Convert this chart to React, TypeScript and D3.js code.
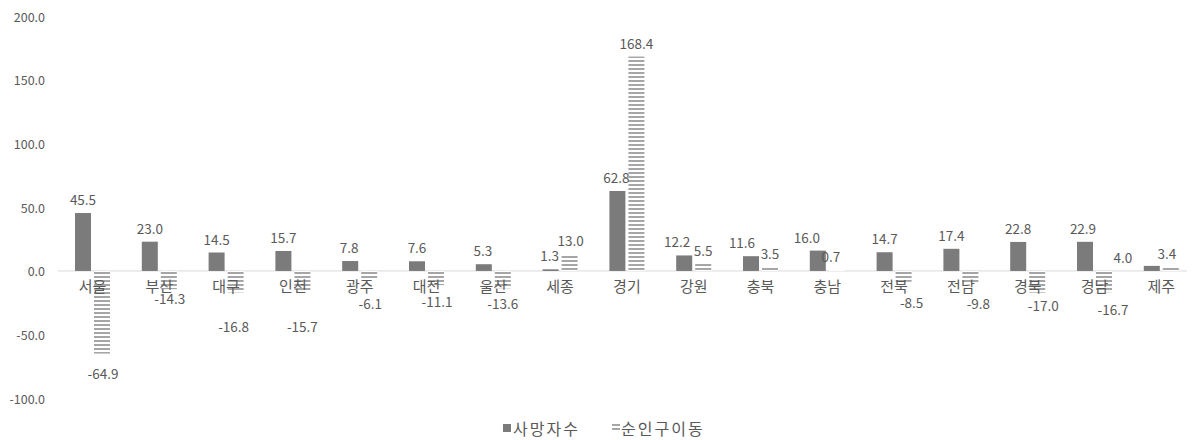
import React from "react";
import * as d3 from "d3";

const categories = ["서울", "부산", "대구", "인천", "광주", "대전", "울산", "세종", "경기", "강원", "충북", "충남", "전북", "전남", "경북", "경남", "제주"];
const deaths = [45.5, 23.0, 14.5, 15.7, 7.8, 7.6, 5.3, 1.3, 62.8, 12.2, 11.6, 16.0, 14.7, 17.4, 22.8, 22.9, 4.0];
const migration = [-64.9, -14.3, -16.8, -15.7, -6.1, -11.1, -13.6, 13.0, 168.4, 5.5, 3.5, 0.7, -8.5, -9.8, -17.0, -16.7, 3.4];
const yTicks = [-100, -50, 0, 50, 100, 150, 200];
const seriesNames = ["사망자수", "순인구이동"];

// manual label nudges (px), as the labels were placed in the original
const deathLabelDx = [0, 0, 0, 0, -1, 0, -1, -1, -1, -7, -9, -11, 0, 0, 0, -2, -29];
const deathLabelDy = [0, 0, 0, 0, 0, 0, 0, 0, 0, 0, 0, 0, 0, 0, 0, 0, 5];
const migLabelDx = [1, 1, -2, 0, 1, 1, 0, 1, 0, 0, 0, -6, 8, 8, 6, 9, -4];
const migLabelDy = [19, 9, 34, 35, 24, 16, 15, 0, 0, 0, 0, 0, 20, 20, 12, 17, 0];

const W = 1192;
const H = 440;
const FONT = "'Malgun Gothic','Noto Sans CJK KR','Noto Sans',sans-serif";
const TXT = "#595959";
const DARK = "#7b7b7b";
const HATCH = "#a6a6a6";

const fmt = (v: number) => d3.format(".1f")(v).replace("\u2212", "-");

export default function App() {
  const x = d3.scaleBand<string>().domain(categories).range([59.1, 59.1 + 17 * 66.8]).padding(0);
  const y = d3.scaleLinear().domain([-100, 200]).range([398.3, 16.3]);
  const bw = 16;
  const gap = 3;
  const y0 = y(0);

  return (
    <div style={{ position: "fixed", left: 0, top: 0 }}>
      <svg width={W} height={H} style={{ display: "block", background: "#fff" }} fontFamily={FONT}>
        <defs>
          <pattern id="hatch" width={4} height={4} patternUnits="userSpaceOnUse">
            <rect width={4} height={4} fill="#fff" />
            <rect width={4} height={2} fill={HATCH} />
          </pattern>
        </defs>
        {yTicks.map((t) => (
          <text key={t} x={45} y={y(t)} textAnchor="end" dominantBaseline="central" fontSize={12.5} fill={TXT}>
            {fmt(t)}
          </text>
        ))}
        <line x1={58} x2={1187} y1={y0} y2={y0} stroke="#d9d9d9" strokeWidth={1} />
        {categories.map((c, i) => {
          const cx = (x(c) as number) + x.bandwidth() / 2;
          const d = deaths[i];
          const m = migration[i];
          const dx0 = cx - gap / 2 - bw;
          const mx0 = cx + gap / 2;
          const dTop = y(Math.max(0, d));
          const mTop = y(Math.max(0, m));
          const mBot = y(Math.min(0, m));
          return (
            <g key={c}>
              <rect x={dx0} y={dTop} width={bw} height={Math.abs(y(d) - y0)} fill={DARK} />
              <rect x={mx0} y={mTop} width={bw} height={Math.abs(mBot - mTop)} fill="url(#hatch)" />
              <text x={cx} y={285} textAnchor="middle" dominantBaseline="central" fontSize={15} fill={TXT}>
                {c}
              </text>
              <text
                x={dx0 + bw / 2 + deathLabelDx[i]}
                y={dTop - 14 + deathLabelDy[i]}
                textAnchor="middle"
                dominantBaseline="central"
                fontSize={13.5}
                fill={TXT}
              >
                {fmt(d)}
              </text>
              <text
                x={mx0 + bw / 2 + migLabelDx[i]}
                y={m >= 0 ? mTop - 14 + migLabelDy[i] : mBot + migLabelDy[i]}
                textAnchor="middle"
                dominantBaseline="central"
                fontSize={13.5}
                fill={TXT}
              >
                {fmt(m)}
              </text>
            </g>
          );
        })}
        <g>
          <rect x={503} y={424} width={8} height={8} fill={DARK} />
          <text x={513} y={428} dominantBaseline="central" fontSize={16} letterSpacing={2} fill={TXT}>
            {seriesNames[0]}
          </text>
          <rect x={612} y={424} width={8} height={8} fill="url(#hatch)" />
          <text x={621} y={428} dominantBaseline="central" fontSize={16} letterSpacing={2} fill={TXT}>
            {seriesNames[1]}
          </text>
        </g>
      </svg>
    </div>
  );
}
